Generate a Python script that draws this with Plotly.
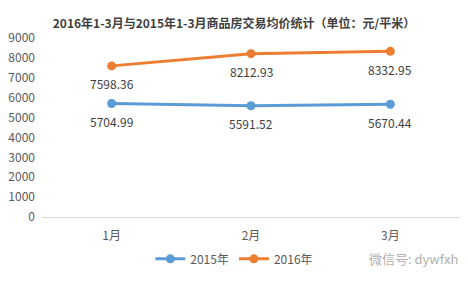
import plotly.graph_objects as go

months = ["1月", "2月", "3月"]
y2015 = [5704.99, 5591.52, 5670.44]
y2016 = [7598.36, 8212.93, 8332.95]
yticks = [0, 1000, 2000, 3000, 4000, 5000, 6000, 7000, 8000, 9000]

fig = go.Figure()
for name, vals, col in [("2015年", y2015, "#5B9BD5"), ("2016年", y2016, "#ED7D31")]:
    fig.add_trace(go.Scatter(
        x=months, y=vals, name=name, mode="lines+markers",
        line=dict(color=col, width=3), marker=dict(color=col, size=9),
    ))
    for m, v in zip(months, vals):
        fig.add_annotation(x=m, y=v, text=f"{v:.2f}", showarrow=False,
                           yshift=-18, xanchor="center", yanchor="middle",
                           font=dict(size=12, color="#404040"))

fig.update_layout(
    width=468, height=281,
    margin=dict(l=39, r=8, t=38, b=59),
    paper_bgcolor="white", plot_bgcolor="white",
    font=dict(family="Noto Sans CJK SC", size=12, color="#595959"),
    title=dict(text="<b>2016年1-3月与2015年1-3月商品房交易均价统计（单位：元/平米）</b>",
               x=0.5, xanchor="center", y=1 - 24/281, yanchor="middle",
               font=dict(size=12, color="#404040")),
    xaxis=dict(showgrid=False, showline=True, linecolor="#D9D9D9", linewidth=1,
               ticks="", tickfont=dict(size=12, color="#595959"), range=[-0.5, 2.5],
               ticklabelstandoff=8),
    yaxis=dict(range=[0, 9000], tickvals=yticks, showgrid=False, zeroline=False,
               tickfont=dict(size=12, color="#595959"), ticklabelstandoff=6),
    showlegend=True,
    legend=dict(orientation="h", x=0.46, xanchor="center", y=-(265 - 222) / 184, yanchor="middle",
                font=dict(size=12, color="#595959"), itemwidth=30, tracegroupgap=0),
)
fig.add_annotation(text="微信号: dywfxh", xref="paper", yref="paper",
                   x=1.0, xanchor="right", y=-(265 - 222) / 184, yanchor="middle", showarrow=False,
                   font=dict(size=13, color="#B0B0B0"))
fig.write_html("out.html")
